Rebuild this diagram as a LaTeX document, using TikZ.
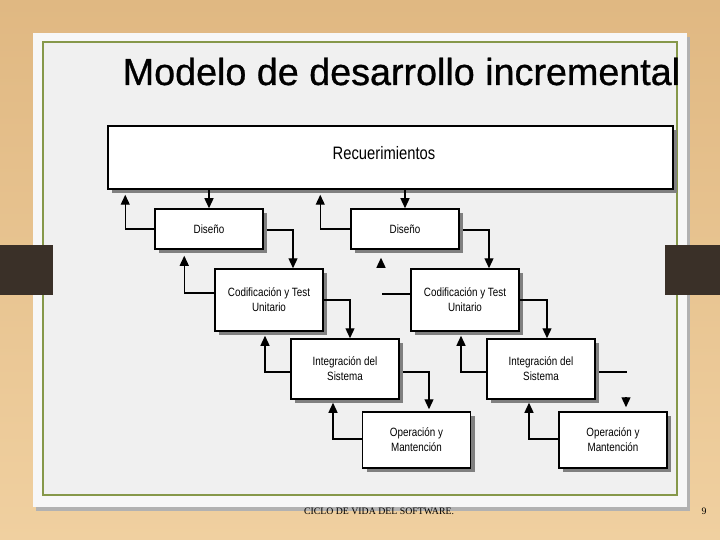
\documentclass[tikz,border=0pt]{standalone}
\usepackage{fontspec}
\setmainfont{Liberation Sans}
\newfontfamily\boxfont[FakeStretch=0.82]{Liberation Sans}
\newfontfamily\titlefont[FakeBold=0.8]{Liberation Sans}
\newfontfamily\footfont{Liberation Serif}
\usetikzlibrary{arrows.meta,calc,shadows}
\definecolor{woodtop}{RGB}{224,184,130}
\definecolor{woodbot}{RGB}{240,208,160}
\definecolor{paper}{RGB}{247,247,247}
\definecolor{paperin}{RGB}{240,240,240}
\definecolor{olive}{RGB}{134,152,74}
\definecolor{tabc}{RGB}{58,48,40}
\definecolor{shade}{RGB}{128,128,128}
\begin{document}
\begin{tikzpicture}[x=1pt,y=-1pt,
  box/.style={draw=black, line width=1.5pt, fill=white, minimum width=108pt,
    inner sep=0pt, align=center, font=\boxfont\fontsize{12}{15}\selectfont,
    drop shadow={shadow xshift=4pt, shadow yshift=-4pt, fill=shade, opacity=1}},
  arr/.style={line width=1.3pt, -{Triangle[width=9pt,length=10pt]}},
  plain/.style={line width=1.3pt}]
\useasboundingbox (0,0) rectangle (720,540);
% background and slide
\shade[top color=woodtop,bottom color=woodbot] (0,0) rectangle (720,540);
\fill[black!30] (36,37) rectangle (690,511);
\fill[paper] (33,33) rectangle (687,507);
\filldraw[fill=paperin, draw=olive, line width=2pt] (43,42) rectangle (677,495);
\fill[tabc] (0,245) rectangle (53,295);
\fill[tabc] (665,245) rectangle (720,295);
% texts
\node[font=\titlefont\fontsize{37.7}{40}\selectfont, anchor=base, inner sep=0pt] (title) at (401.5,85) {Modelo de desarrollo incremental};
\node[font=\footfont\fontsize{9.8}{11}\selectfont, anchor=base, inner sep=0pt] (foot) at (379,514) {CICLO DE VIDA DEL SOFTWARE.};
\node[font=\footfont\fontsize{9.8}{11}\selectfont, anchor=base, inner sep=0pt] (page) at (704,514) {9};
% boxes
\node[box, minimum width=565pt, minimum height=63pt,
  label={[font=\boxfont\fontsize{18}{20}\selectfont, xshift=-6.5pt, yshift=4.5pt]center:Recuerimientos}] (req) at (390.5,157.5) {};
\node[box, minimum height=40pt] (dis1) at (209,229) {Diseño};
\node[box, minimum height=40pt] (dis2) at (405,229) {Diseño};
\node[box, minimum height=62pt] (cod1) at (269,300) {Codificación y Test\\Unitario};
\node[box, minimum height=62pt] (cod2) at (465,300) {Codificación y Test\\Unitario};
\node[box, minimum height=60pt] (int1) at (345,369) {Integración del\\Sistema};
\node[box, minimum height=60pt] (int2) at (541,369) {Integración del\\Sistema};
\node[box, minimum height=56pt] (op1) at (416.5,440) {Operación y\\Mantención};
\node[box, minimum height=56pt] (op2) at (613,440) {Operación y\\Mantención};
% group 1
\draw[arr] (dis1.north |- req.south) -- (dis1.north);
\draw[arr, shorten >=5pt] (dis1.west) -| ($(req.south west)+(18,0)$);
\draw[arr] ($(dis1.east)+(3,1)$) -| ($(cod1.north)+(24,0)$);
\draw[arr, shorten >=6pt] ($(cod1.west)+(0,-7)$) -| ($(dis1.south west)+(30,0)$);
\draw[arr] (cod1.east) -| ($(int1.north)+(5,0)$);
\draw[arr, shorten >=4pt] ($(int1.west)+(0,3)$) -| ($(cod1.south)+(-4,0)$);
\draw[arr, shorten >=2pt] ($(int1.east)+(3,3)$) -| ($(op1.north)+(12.5,0)$);
\draw[arr, shorten >=3pt] ($(op1.west)+(0,-1)$) -| ($(int1.south)+(-12,0)$);
% group 2
\draw[arr] (dis2.north |- req.south) -- (dis2.north);
\draw[arr, shorten >=5pt] (dis2.west) -| ($(req.south west)+(213,0)$);
\draw[arr] ($(dis2.east)+(3,1)$) -| ($(cod2.north)+(24,0)$);
\coordinate (stubL) at ($(cod2.west)+(-28,-6)$);
\draw[plain] ($(cod2.west)+(0,-6)$) -- (stubL);
\coordinate (tipA) at ($(dis2.south)+(-24,8)$);
\coordinate (tipB) at ($(dis2.south)+(-24,18)$);
\draw[arr] (tipB) -- (tipA);
\draw[arr] (cod2.east) -| ($(int2.north)+(6,0)$);
\draw[arr, shorten >=4pt] ($(int2.west)+(0,3)$) -| ($(cod2.south)+(-4,0)$);
\coordinate (stubR) at ($(int2.east)+(31,3)$);
\draw[plain] ($(int2.east)+(3,3)$) -- (stubR);
\coordinate (tipC) at ($(op2.north)+(13,-4)$);
\coordinate (tipD) at ($(op2.north)+(13,-14)$);
\draw[arr] (tipD) -- (tipC);
\draw[arr, shorten >=3pt] ($(op2.west)+(0,-1)$) -| ($(int2.south)+(-12,0)$);
\end{tikzpicture}
\end{document}
